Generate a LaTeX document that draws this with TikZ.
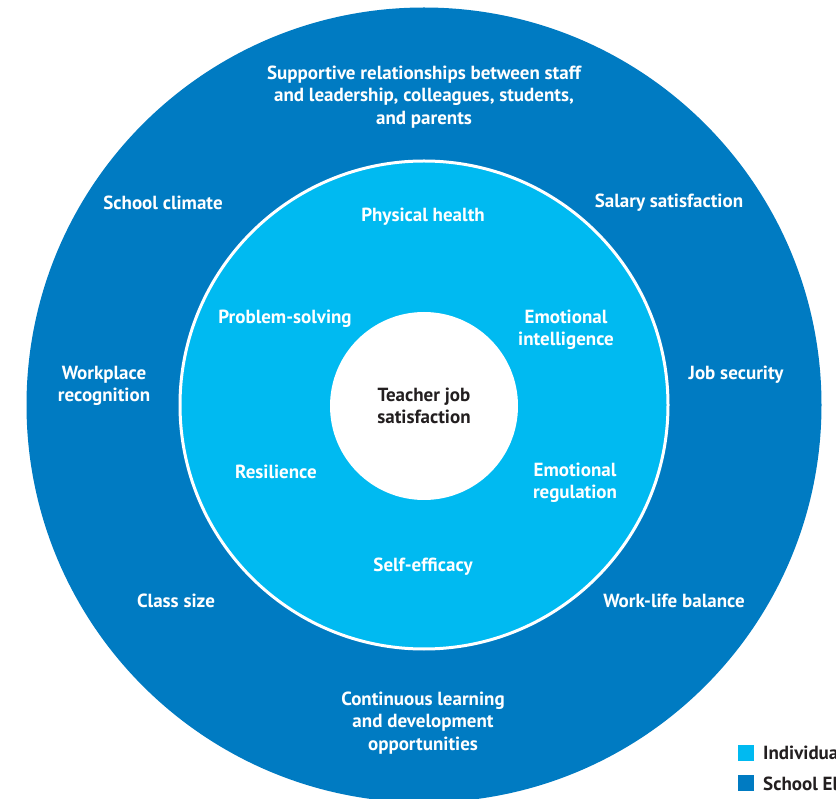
\documentclass[tikz,border=0pt]{standalone}
\usepackage{fontspec}
\setmainfont{PT Sans}
\definecolor{outerblue}{RGB}{0,123,194}
\definecolor{innerblue}{RGB}{0,186,241}
\definecolor{darktext}{RGB}{35,31,32}
\begin{document}
\begin{tikzpicture}[x=1pt,y=-1pt,
  lbl/.style={text=white, font=\bfseries\fontsize{19}{22.5}\selectfont, align=center, inner sep=0pt},
  ring/.style={circle, inner sep=0pt},
  legsq/.style={minimum size=16pt, inner sep=0pt},
  legtxt/.style={anchor=west, text=darktext, font=\bfseries\fontsize{19}{22}\selectfont, inner sep=0pt}]
\useasboundingbox (0,0) rectangle (836,799);
\clip (0,0) rectangle (836,799);
\fill[white] (0,0) rectangle (836,799);
\node[ring, fill=outerblue, minimum size=795pt] (outer) at (424,405) {};
\node[ring, fill=innerblue, draw=white, line width=3pt, minimum size=488pt] (inner) at (424,405) {};
\node[ring, fill=white, minimum size=188pt, text=darktext, font=\bfseries\fontsize{19}{22.5}\selectfont, align=center] (core) at (424,406) {Teacher job\\satisfaction};
% outer ring labels
\node[lbl] (supp) at (424,97) {Supportive relationships between staff\\and leadership, colleagues, students,\\and parents};
\node[lbl] (climate) at (163,203) {School climate};
\node[lbl] (salary) at (669,203) {Salary satisfaction};
\node[lbl] (recog) at (104,386) {Workplace\\recognition};
\node[lbl] (jobsec) at (736,375) {Job security};
\node[lbl] (class) at (176,601) {Class size};
\node[lbl] (wlb) at (674,601) {Work-life balance};
\node[lbl] (learn) at (423,723) {Continuous learning\\and development\\opportunities};
% inner ring labels
\node[lbl] (phys) at (423,217) {Physical health};
\node[lbl] (prob) at (285,319) {Problem-solving};
\node[lbl] (emoint) at (566,330) {Emotional\\intelligence};
\node[lbl] (resil) at (276,472) {Resilience};
\node[lbl] (emoreg) at (575,483) {Emotional\\regulation};
\node[lbl] (selfeff) at (423,567) {Self-efficacy};
% legend
\node[legsq, fill=innerblue] (legA) at (745.5,752.5) {};
\node[legtxt] (legAt) at (763,753) {Individua};
\node[legsq, fill=outerblue] (legB) at (745.5,783) {};
\node[legtxt] (legBt) at (763,783.5) {School El};
\end{tikzpicture}
\end{document}
